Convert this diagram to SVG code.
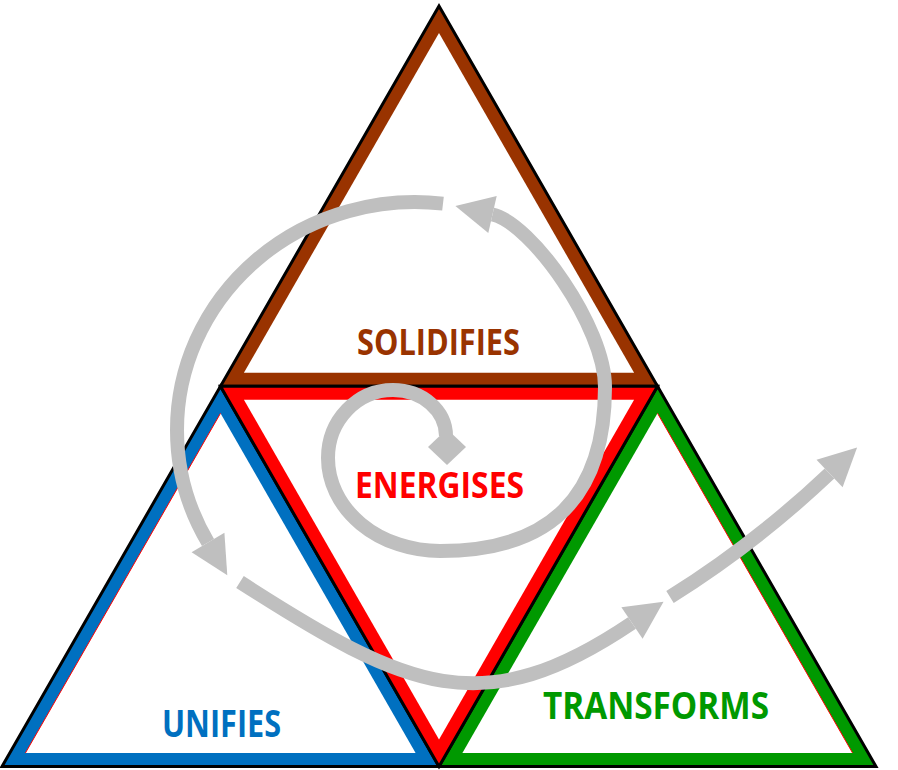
<svg xmlns="http://www.w3.org/2000/svg" width="898" height="770" viewBox="0 0 898 770">
<defs>
<style>
.tri{stroke:#000;stroke-width:3;stroke-linejoin:miter;stroke-miterlimit:10}
.hole{fill:#fff;stroke:none}
.hair{stroke:#ff0000;stroke-width:1;fill:none}
.lbl{font-family:"Open Sans","Liberation Sans",Arial,sans-serif;font-weight:bold}
.flow{fill:none;stroke:#bfbfbf;stroke-width:14;stroke-linecap:butt}
.head{fill:#bfbfbf;stroke:none}
</style>
</defs>
<rect width="898" height="770" fill="#fff"/>
<g id="solidifies">
<polygon class="tri" fill="#993300" points="439,6 220.5,386.25 657.5,386.25"/>
<polygon class="hole" points="439,33 243.9,372.75 634.1,372.75"/>
<text class="lbl" x="357" y="355" font-size="35" fill="#993300" textLength="163" lengthAdjust="spacingAndGlyphs">SOLIDIFIES</text>
</g>
<g id="unifies">
<polygon class="tri" fill="#0070c0" points="220.5,386.25 2,766.5 439,766.5"/>
<polygon class="hole" points="220.5,413.25 25.4,753 415.6,753"/>
<line class="hair" x1="220.5" y1="413.25" x2="25.4" y2="753"/>
<text class="lbl" x="162" y="737" font-size="38" fill="#0070c0" textLength="119" lengthAdjust="spacingAndGlyphs">UNIFIES</text>
</g>
<g id="transforms">
<polygon class="tri" fill="#009900" points="657.5,386.25 439,766.5 876,766.5"/>
<polygon class="hole" points="657.5,413.25 462.4,753 852.6,753"/>
<line class="hair" x1="657.5" y1="413.25" x2="852.6" y2="753"/>
<text class="lbl" x="543" y="719" font-size="38" fill="#009900" textLength="226" lengthAdjust="spacingAndGlyphs">TRANSFORMS</text>
</g>
<g id="energises">
<polygon class="tri" fill="#ff0000" points="220.5,386.25 657.5,386.25 439,766.5"/>
<polygon class="hole" points="243.9,399.75 634.1,399.75 439,739.5"/>
<text class="lbl" x="355" y="498" font-size="35" fill="#ff0000" textLength="169" lengthAdjust="spacingAndGlyphs">ENERGISES</text>
</g>
<g id="connectors">
<polygon class="head" points="428,447 447,429 466,447 447,465"/>
<path class="flow" d="M446,436 A53,46 0 0 0 393,390 A65,68 0 0 0 328,458 A112,93 0 0 0 440,551 C550,551 605,497 605,387 C605,327 531.5,223.3 492.5,214.5"/>
<polygon class="head" points="455.4,206.1 496.7,196 488.3,233"/>
<path class="flow" d="M443,203.6 A238,228 0 0 0 177,430 A238,228 0 0 0 208,542.5"/>
<polygon class="head" points="227.3,575.2 224.4,532.8 191.6,552.2"/>
<path class="flow" d="M240,582 C408,690 482.6,723.8 632,623"/>
<polygon class="head" points="663.5,601.8 642.6,638.75 621.4,607.25"/>
<path class="flow" d="M670,597 Q755.9,543.2 829.5,473.5"/>
<polygon class="head" points="857.1,447.4 842.6,487.3 816.5,459.7"/>
</g>
</svg>
